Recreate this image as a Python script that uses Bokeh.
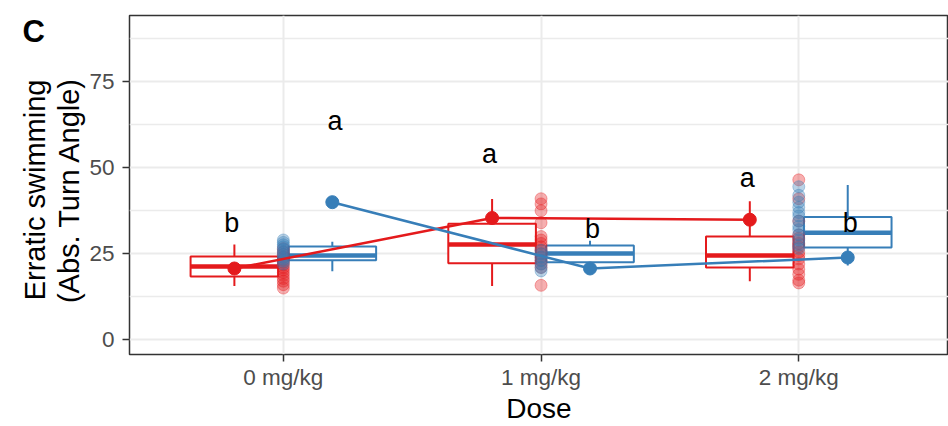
import math
from bokeh.plotting import figure
from bokeh.layouts import row
from bokeh.models import Range1d, FixedTicker, ColumnDataSource
from bokeh.core.properties import value
from bokeh.embed import file_html
from bokeh.resources import INLINE

# ---------------- data ----------------
doses = ["0 mg/kg", "1 mg/kg", "2 mg/kg"]

red_lower = [15.6, 15.6, 17.0]
red_q1 = [18.4, 22.2, 21.0]
red_median = [21.3, 27.7, 24.5]
red_q3 = [24.2, 33.7, 30.0]
red_upper = [27.7, 40.9, 40.3]
red_mean = [20.7, 35.4, 34.9]

blue_lower = [19.9, 20.5, 21.6]
blue_q1 = [23.1, 22.5, 26.8]
blue_median = [24.5, 25.1, 31.1]
blue_q3 = [27.1, 27.4, 35.7]
blue_upper = [28.5, 28.8, 45.0]
blue_mean = [40.0, 20.7, 23.9]

red_letters = ["b", "a", "a"]
red_letter_y = [34.0, 53.9, 47.0]
blue_letters = ["a", "b", "b"]
blue_letter_y = [63.7, 32.3, 34.0]

red_points_0 = [26.5, 25.5, 24.8, 24.0, 23.2, 22.5, 21.8, 21.0, 20.3, 19.5, 18.7, 17.8, 17.0, 16.0, 15.0]
blue_points_0 = [29.0, 28.3, 27.6, 27.0, 26.2, 25.5, 24.8, 24.0, 23.4, 22.8, 22.0]
red_points_1 = [41.0, 39.5, 37.5, 34.0, 30.0, 29.0, 28.0, 27.0, 26.0, 25.0, 24.0, 23.0, 22.0, 21.0, 15.8]
blue_points_1 = [26.0, 25.0, 24.0, 23.0, 22.0, 21.0, 20.0]
red_points_2 = [46.5, 41.0, 34.5, 30.5, 29.5, 28.0, 27.0, 25.5, 24.5, 23.5, 22.0, 20.5, 19.0, 17.3, 16.5]
blue_points_2 = [44.5, 42.0, 40.0, 38.5, 37.0, 36.0, 34.5, 33.0, 32.0, 30.5, 29.0, 27.5, 26.5]

red_points = [red_points_0, red_points_1, red_points_2]
blue_points = [blue_points_0, blue_points_1, blue_points_2]

y_title_lines = ["Erratic swimming", "(Abs. Turn Angle)"]
x_title = "Dose"
panel_tag = "C"

RED = "#E41A1C"
BLUE = "#377EB8"
FONT = "Liberation Sans"
DODGE = 0.19
BOXW = 0.34
H = 426
LEFT_W = 86
TOP = 15
BOTTOM = 69

# ---------------- left strip: panel tag + y title ----------------
# its frame is aligned with the main frame (screen y 15..357); data y = 426 - screen y
side = figure(width=LEFT_W, height=H, output_backend="svg", toolbar_location=None,
              x_range=Range1d(0, LEFT_W), y_range=Range1d(BOTTOM, H - TOP),
              min_border_left=0, min_border_right=0, min_border_top=TOP, min_border_bottom=BOTTOM)
side.axis.visible = False
side.grid.visible = False
side.outline_line_color = None
side.background_fill_color = "white"
side.border_fill_color = "white"
side.text([22], [H - 31], text=[panel_tag], text_font=value(FONT), text_font_size="31px",
          text_font_style="bold", text_align="left", text_baseline="middle", text_color="black")
side.text([34, 68], [H - 191, H - 191], text=y_title_lines, angle=math.pi / 2,
          text_font=value(FONT), text_font_size="29px", text_align="center",
          text_baseline="middle", text_color="black")

# ---------------- main panel ----------------
p = figure(width=948 - LEFT_W, height=H, output_backend="svg", toolbar_location=None,
           x_range=Range1d(-0.597, 2.581), y_range=Range1d(-4.33, 94.33),
           min_border_left=128 - LEFT_W, min_border_right=0, min_border_top=TOP, min_border_bottom=BOTTOM)
p.background_fill_color = "white"
p.border_fill_color = "white"
p.outline_line_color = "#333333"
p.outline_line_width = 1.5

p.xgrid.ticker = FixedTicker(ticks=[0, 1, 2])
p.xgrid.grid_line_color = "#EBEBEB"
p.xgrid.grid_line_width = 2
p.ygrid.ticker = FixedTicker(ticks=[0, 25, 50, 75], minor_ticks=[12.5, 37.5, 62.5, 87.5])
p.ygrid.grid_line_color = "#EBEBEB"
p.ygrid.grid_line_width = 2
p.ygrid.minor_grid_line_color = "#EBEBEB"
p.ygrid.minor_grid_line_width = 1.3

p.xaxis.ticker = FixedTicker(ticks=[0, 1, 2])
p.xaxis.major_label_overrides = {i: d for i, d in enumerate(doses)}
p.yaxis.ticker = FixedTicker(ticks=[0, 25, 50, 75])
for ax in (p.xaxis[0], p.yaxis[0]):
    ax.axis_line_color = None
    ax.major_tick_line_color = "#333333"
    ax.major_tick_line_width = 1.5
    ax.major_tick_in = 0
    ax.major_tick_out = 7
    ax.minor_tick_line_color = None
    ax.major_label_text_font = FONT
    ax.major_label_text_font_size = "22.5px"
    ax.major_label_text_color = "#4D4D4D"
    ax.axis_label_text_font = FONT
    ax.axis_label_text_font_style = "normal"
    ax.axis_label_text_color = "black"
    ax.axis_label_text_font_size = "28px"
p.xaxis.axis_label = x_title
p.xaxis.major_label_standoff = 3
p.xaxis.axis_label_standoff = 0
p.yaxis.major_label_standoff = 8

xs = [0, 1, 2]

def draw_boxes(offset, lower, q1, med, q3, upper, color):
    cx = [x + offset for x in xs]
    src = ColumnDataSource(dict(cx=cx, left=[c - BOXW / 2 for c in cx], right=[c + BOXW / 2 for c in cx],
                                lower=lower, q1=q1, med=med, q3=q3, upper=upper))
    p.segment(x0="cx", y0="q3", x1="cx", y1="upper", source=src, line_color=color, line_width=2)
    p.segment(x0="cx", y0="q1", x1="cx", y1="lower", source=src, line_color=color, line_width=2)
    p.quad(left="left", right="right", bottom="q1", top="q3", source=src,
           fill_color="white", line_color=color, line_width=2)
    p.segment(x0="left", y0="med", x1="right", y1="med", source=src, line_color=color, line_width=4.5)

draw_boxes(-DODGE, red_lower, red_q1, red_median, red_q3, red_upper, RED)
draw_boxes(DODGE, blue_lower, blue_q1, blue_median, blue_q3, blue_upper, BLUE)

for i in xs:
    p.scatter([i] * len(red_points[i]), red_points[i], size=12, fill_color=RED, fill_alpha=0.35,
              line_color=RED, line_alpha=0.35)
    p.scatter([i] * len(blue_points[i]), blue_points[i], size=12, fill_color=BLUE, fill_alpha=0.35,
              line_color=BLUE, line_alpha=0.35)

rx = [x - DODGE for x in xs]
bx = [x + DODGE for x in xs]
p.line(rx, red_mean, line_color=RED, line_width=2.5)
p.scatter(rx, red_mean, size=13, color=RED)
p.line(bx, blue_mean, line_color=BLUE, line_width=2.5)
p.scatter(bx, blue_mean, size=13, color=BLUE)

p.text([x - 0.2 for x in xs], red_letter_y, text=red_letters, text_font=value(FONT),
       text_font_size="27px", text_align="center", text_baseline="middle", text_color="black")
p.text([x + 0.2 for x in xs], blue_letter_y, text=blue_letters, text_font=value(FONT),
       text_font_size="27px", text_align="center", text_baseline="middle", text_color="black")

layout = row(side, p)
open("out.html", "w").write(file_html(layout, INLINE))
